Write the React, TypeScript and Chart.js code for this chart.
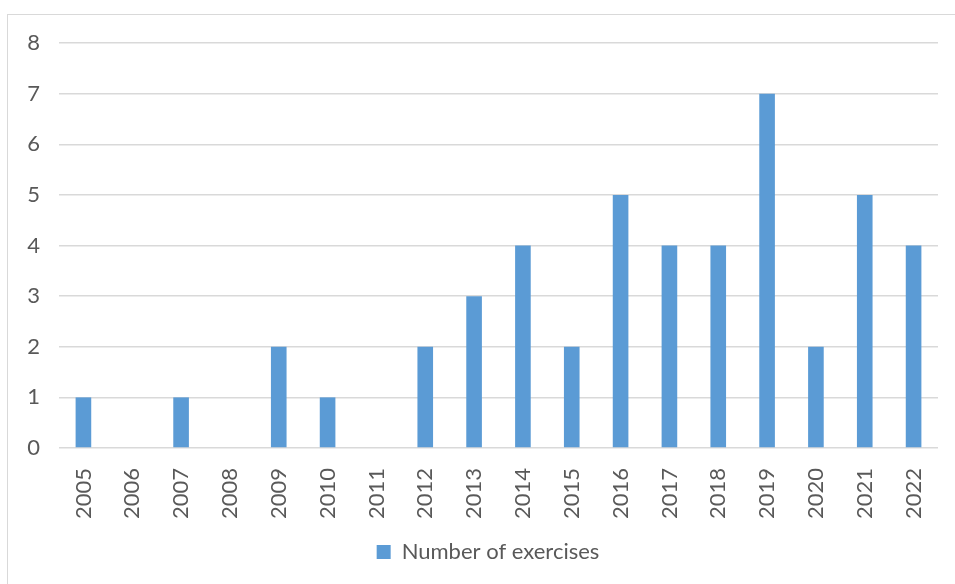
import React, { useEffect, useRef } from "react";
import { Chart, registerables } from "chart.js";

Chart.register(...registerables);

const years: string[] = [
  "2005", "2006", "2007", "2008", "2009", "2010", "2011", "2012", "2013",
  "2014", "2015", "2016", "2017", "2018", "2019", "2020", "2021", "2022",
];
const exercises: number[] = [1, 0, 1, 0, 2, 1, 0, 2, 3, 4, 2, 5, 4, 4, 7, 2, 5, 4];
const seriesLabel = "Number of exercises";

const TEXT = "#595959";
const GRID = "#d9d9d9";
const BAR = "#5b9bd5";
const FONT = "Lato, 'Open Sans', sans-serif";

// Nudges the legend so it sits centred under the wider frame.
const legendShift = {
  id: "legendShift",
  afterLayout(chart: any) {
    const lg = chart.legend;
    if (lg) {
      lg.left += 19;
      lg.right += 19;
    }
  },
};

export default function App() {
  const canvasRef = useRef<HTMLCanvasElement | null>(null);

  useEffect(() => {
    const canvas = canvasRef.current;
    if (!canvas) return;
    const chart = new Chart(canvas, {
      type: "bar",
      data: {
        labels: years,
        datasets: [
          {
            label: seriesLabel,
            data: exercises,
            backgroundColor: BAR,
            borderWidth: 0,
            categoryPercentage: 1,
            barPercentage: 0.32,
          },
        ],
      },
      options: {
        animation: false,
        responsive: false,
        maintainAspectRatio: false,
        layout: { padding: { top: 43, right: 17, left: 0, bottom: 11 } },
        plugins: {
          tooltip: { enabled: false },
          legend: {
            position: "bottom",
            labels: {
              color: TEXT,
              font: { family: FONT, size: 22 },
              boxWidth: 14,
              boxHeight: 14,
              padding: 10,
            },
          },
        },
        scales: {
          x: {
            grid: { display: false },
            border: { display: false },
            ticks: {
              color: TEXT,
              font: { family: FONT, size: 22 },
              minRotation: 90,
              maxRotation: 90,
              padding: 12,
              autoSkip: false,
            },
            afterFit: (s: any) => {
              s.height = 83;
            },
          },
          y: {
            min: 0,
            max: 8,
            grid: { color: GRID, lineWidth: 1.5, drawTicks: false },
            border: { display: false },
            ticks: {
              stepSize: 1,
              color: TEXT,
              font: { family: FONT, size: 22 },
              padding: 19,
            },
            afterFit: (s: any) => {
              s.width = 59;
            },
          },
        },
      },
      plugins: [legendShift],
    });
    return () => chart.destroy();
  }, []);

  return (
    <div style={{ position: "fixed", left: 0, top: 0, width: 955, height: 584, overflow: "hidden", background: "#fff" }}>
      <div
        style={{
          position: "absolute",
          left: 7,
          top: 14,
          width: 1000,
          height: 700,
          border: `1px solid ${GRID}`,
          boxSizing: "border-box",
        }}
      />
      <canvas ref={canvasRef} width={955} height={584} style={{ position: "absolute", left: 0, top: 0 }} />
    </div>
  );
}
